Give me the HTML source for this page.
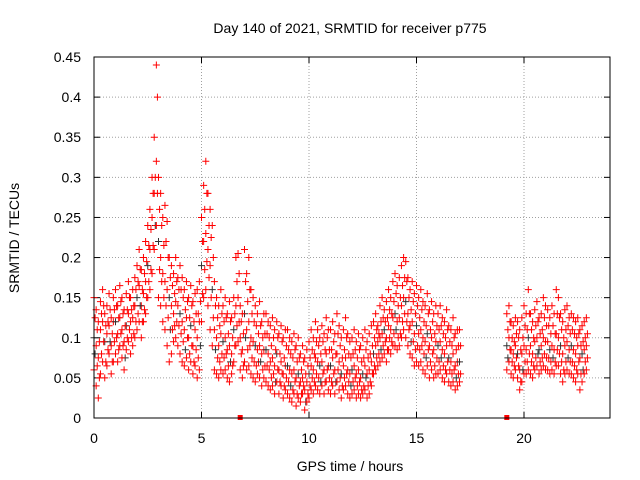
<!DOCTYPE html>
<html><head><meta charset="utf-8">
<style>
html,body{margin:0;padding:0;background:#fff;}
svg{display:block;font-family:"Liberation Sans",sans-serif;}
</style></head>
<body>
<svg id="chart" width="640" height="480" xmlns="http://www.w3.org/2000/svg">
<text x="350" y="33" font-size="14" text-anchor="middle">Day 140 of 2021, SRMTID for receiver p775</text>
<text x="0" y="0" font-size="14" text-anchor="middle" transform="translate(19,238) rotate(-90)">SRMTID / TECUs</text>
<text x="350" y="471" font-size="14" text-anchor="middle">GPS time / hours</text>
<g id="grid"></g>
<g id="ticks"></g>
<g id="marks"></g>
<rect x="94" y="57" width="516" height="361" fill="none" stroke="#000" stroke-width="1"/>
</svg>
<script>
const xTicks = [0,5,10,15,20];
const yTicks = [0,0.05,0.1,0.15,0.2,0.25,0.3,0.35,0.4,0.45];
const yTickLabels = ["0","0.05","0.1","0.15","0.2","0.25","0.3","0.35","0.4","0.45"];
const seg1Start = 0.0;
const seg1OffStart = 0.05;
const seg2Start = 19.2;
const seg2OffStart = 19.25;
const stepHours = 0.1;
const seg1Upper = [150,135,120,145,160,130,140,155,125,150,160,140,165,150,135,155,170,150,160,175,190,210,185,200,220,240,260,300,350,440,300,280,250,265,245,200,190,180,200,175,190,175,160,170,150,165,145,155,160,170,250,290,320,280,260,240,170,150,140,160,140,150,130,145,125,150,200,205,140,130,210,180,200,160,150,140,130,145,120,130,130,120,115,125,110,120,105,115,100,110,110,100,95,105,90,100,80,90,75,85,95,110,100,120,110,100,115,105,125,110,110,120,105,130,115,100,110,125,105,95,100,110,95,105,90,100,110,95,105,115,120,130,115,140,150,135,145,160,150,170,180,165,175,190,200,195,175,160,170,155,165,150,160,145,140,155,135,145,130,140,130,140,125,120,135,115,110,125,105,110,110];
const seg1UpperMid = [125,110,95,130,140,115,120,135,105,135,140,125,145,130,115,135,150,135,140,160,170,185,160,180,195,215,235,280,300,400,260,240,215,220,200,175,165,155,170,160,160,150,135,145,125,140,120,130,130,145,220,260,280,240,225,200,140,125,115,130,120,125,105,120,100,130,170,180,120,105,170,145,160,130,120,115,105,115,100,105,105,100,90,100,85,100,80,95,75,90,85,80,75,85,70,75,60,70,55,65,75,85,80,95,90,80,95,85,100,85,85,95,80,105,90,75,85,100,80,75,80,85,75,85,70,75,85,75,80,90,100,110,105,120,125,120,125,135,130,145,155,140,150,165,175,170,150,135,145,130,140,125,135,120,115,130,110,120,105,115,110,115,105,100,110,95,90,100,85,90,90];
const seg1Mid = [100,90,75,110,120,95,105,115,90,120,120,105,125,110,95,115,130,120,125,140,150,165,140,155,170,190,210,250,280,320,220,200,180,170,160,150,140,130,145,140,130,120,110,125,100,115,90,110,100,120,190,220,230,210,190,160,110,100,90,105,95,100,85,90,80,110,140,150,100,85,130,110,120,100,95,90,85,90,80,85,85,80,70,75,65,80,60,70,55,65,65,60,55,60,50,55,45,50,35,45,55,65,60,75,70,65,70,60,80,65,65,75,60,80,70,55,65,75,60,55,60,65,55,60,50,55,65,55,60,70,80,90,95,100,105,110,100,115,110,125,130,120,125,140,150,145,130,115,120,105,115,105,110,100,95,105,90,100,85,95,90,95,85,80,90,75,70,80,65,70,70];
const seg1LowerMid = [80,65,50,80,95,70,85,95,70,95,100,85,105,90,75,100,110,100,105,120,130,140,120,135,150,170,185,215,240,280,185,170,150,140,125,110,110,115,120,115,105,95,85,100,80,90,70,85,75,90,155,185,195,175,150,125,85,75,70,80,75,80,65,70,65,90,115,120,80,65,100,85,90,75,70,65,70,70,60,65,65,60,50,55,45,60,45,55,40,50,45,40,35,45,30,40,30,40,20,30,40,50,45,55,50,45,55,45,60,50,45,55,45,60,50,40,50,55,45,40,45,50,40,45,35,40,50,40,45,55,65,75,80,85,90,95,85,100,95,105,110,100,105,120,130,120,110,95,95,85,90,85,90,80,75,85,70,80,65,75,70,75,65,60,70,60,55,60,50,55,55];
const seg1Lower = [60,40,25,55,70,50,65,80,55,70,80,70,90,75,60,85,95,80,90,100,110,120,100,120,130,150,160,180,210,240,150,140,120,110,90,70,80,95,100,90,80,70,65,75,60,70,55,65,50,60,120,150,160,140,110,90,60,55,50,60,55,60,50,45,55,70,90,95,60,50,70,60,65,55,50,45,55,50,40,50,45,40,35,40,30,45,30,40,25,35,30,25,20,30,15,25,20,30,10,20,25,35,30,40,35,30,40,30,45,35,30,40,30,45,35,25,35,40,30,25,30,35,25,30,25,30,35,25,30,40,55,60,65,70,75,80,70,85,80,90,90,85,90,100,110,100,90,80,75,65,70,65,70,60,55,65,50,60,50,55,55,60,50,45,55,45,40,45,35,40,45];
const seg2Upper = [130,140,120,115,125,120,110,125,140,130,160,130,120,135,145,125,130,150,140,135,125,140,130,160,150,130,120,135,140,125,130,125,120,125,110,115,120,125];
const seg2UpperMid = [110,120,100,95,105,100,85,100,115,110,130,110,100,115,120,105,110,125,115,115,105,115,105,130,125,110,100,110,115,105,110,105,100,105,90,95,100,105];
const seg2Mid = [90,100,85,80,90,80,60,80,90,85,100,90,80,95,100,85,90,100,95,95,85,90,85,105,100,90,80,90,95,85,90,85,80,90,75,80,85,90];
const seg2LowerMid = [75,85,70,65,75,65,45,60,70,70,80,70,65,75,80,70,75,80,75,75,70,75,70,85,80,70,60,70,75,70,70,65,60,70,55,60,70,75];
const seg2Lower = [60,70,55,50,60,50,35,45,55,55,60,55,50,60,65,55,60,65,60,60,55,60,55,65,65,55,45,55,60,55,55,50,45,55,35,45,55,60];
const axisMarkers = [6.8, 19.2];

const X0=94, X1=610, Y0=418, Y1=57, XMAX=24, YMAX=0.45;
const xs = h => X0 + (h/XMAX)*(X1-X0);
const ys = v => Y0 - (v/YMAX)*(Y0-Y1);
const NS="http://www.w3.org/2000/svg";
const grid=document.getElementById('grid'), ticks=document.getElementById('ticks'), marks=document.getElementById('marks');
function mk(tag, attrs, parent){const e=document.createElementNS(NS,tag);for(const k in attrs)e.setAttribute(k,attrs[k]);parent.appendChild(e);return e;}

xTicks.forEach(t=>{
  const x=xs(t);
  if(t>0){const g=mk('line',{x1:x,y1:Y0,x2:x,y2:Y1,stroke:'#a0a0a0','stroke-dasharray':'1,2'},grid);
  
  }
  const tk=mk('line',{x1:x,y1:Y0,x2:x,y2:Y0-6,stroke:'#000'},ticks);
  
  
  const tk2=mk('line',{x1:x,y1:Y1,x2:x,y2:Y1+6,stroke:'#000'},ticks);
  
  
  const l=mk('text',{x:x,y:443,'font-size':'14','text-anchor':'middle'},ticks);
  l.textContent=String(t);
  
  
});
yTicks.forEach((t,i)=>{
  const y=ys(t);
  if(i>0&&i<yTicks.length-1){const g=mk('line',{x1:X0,y1:y,x2:X1,y2:y,stroke:'#a0a0a0','stroke-dasharray':'1,2'},grid);
  
  }
  const tk=mk('line',{x1:X0,y1:y,x2:X0+6,y2:y,stroke:'#000'},ticks);
  
  
  const tk2=mk('line',{x1:X1,y1:y,x2:X1-6,y2:y,stroke:'#000'},ticks);
  
  
  const l=mk('text',{x:81,y:y+5,'font-size':'14','text-anchor':'end'},ticks);
  l.textContent=yTickLabels[i];
  
  
});
function cross(h,v,color){
  const x=xs(h), y=ys(v);
  const p=mk('path',{d:`M${x-3.5},${y}H${x+3.5}M${x},${y-3.5}V${y+3.5}`,stroke:color,'stroke-width':'1',fill:'none'},marks);
  
  
}
function plotSeries(start, arr, blackEvery){
  arr.forEach((v,i)=>{
    const color=(blackEvery && i%blackEvery===0)?'#333333':'#ff0000';
    cross(start+i*stepHours, v/1000, color);
  });
}
plotSeries(seg1Start, seg1Mid, 5);
plotSeries(seg2Start, seg2Mid, 5);
plotSeries(seg1OffStart, seg1LowerMid, 7);
plotSeries(seg2OffStart, seg2LowerMid, 7);
plotSeries(seg1OffStart, seg1UpperMid, 0);
plotSeries(seg2OffStart, seg2UpperMid, 0);
plotSeries(seg1Start, seg1Upper, 0);
plotSeries(seg1Start, seg1Lower, 0);
plotSeries(seg2Start, seg2Upper, 0);
plotSeries(seg2Start, seg2Lower, 0);
axisMarkers.forEach(h=>{
  const r=mk('rect',{x:xs(h)-2.5,y:Y0-3,width:5,height:5,fill:'#ff0000'},marks);
  
  
});
</script>
</body></html>
